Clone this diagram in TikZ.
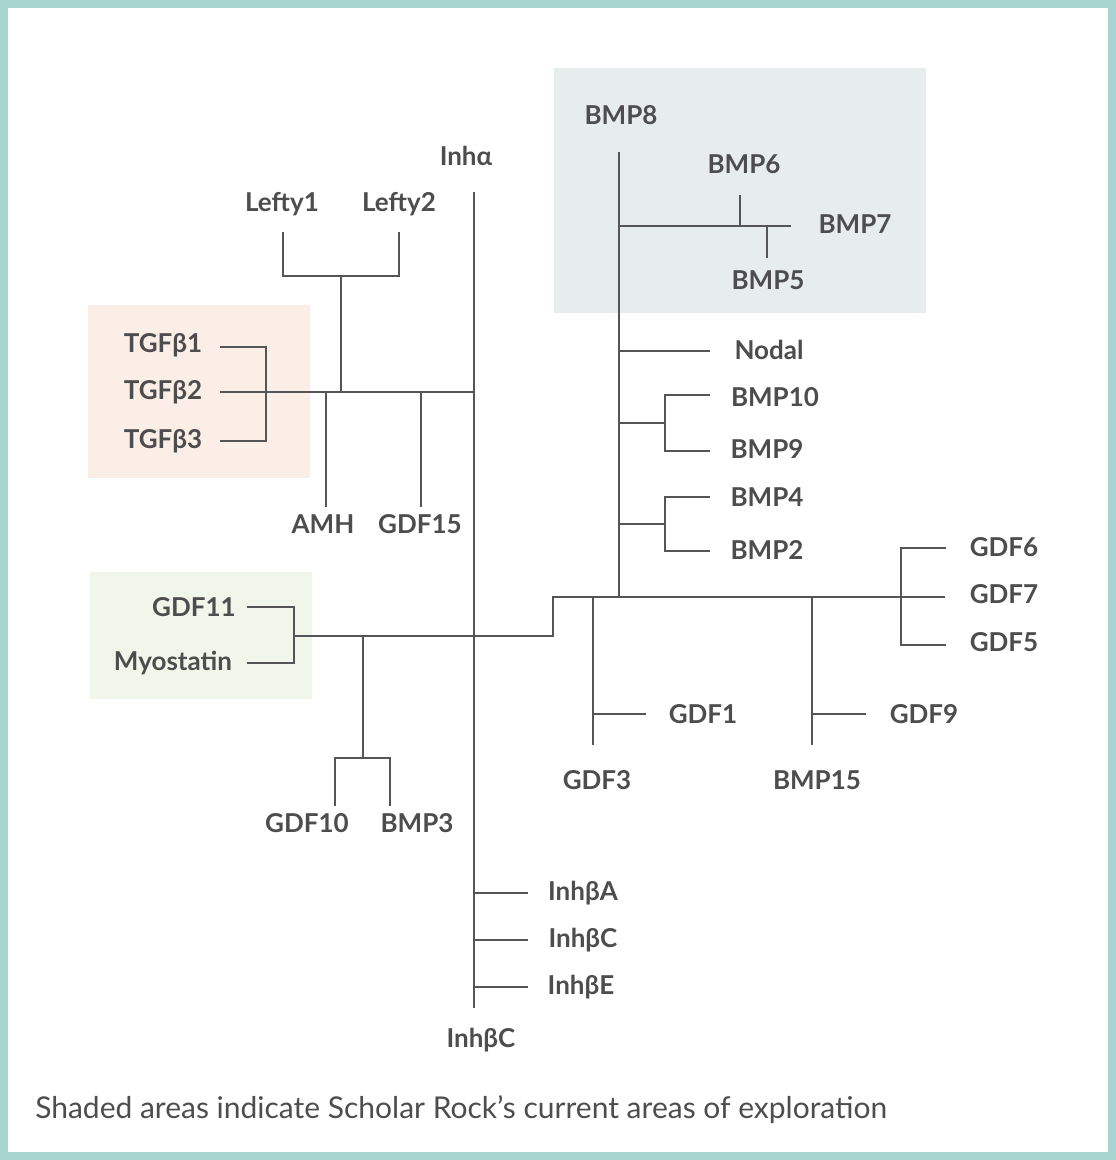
\documentclass[tikz,border=0pt]{standalone}
\usepackage{fontspec}
\setmainfont{Lato}
\begin{document}
\begin{tikzpicture}[x=0.75pt,y=-0.75pt,
  lab/.style={font=\fontsize{19.5}{22}\selectfont\bfseries,text=txt,inner sep=0pt},
  br/.style={draw=ln,line width=1pt}]
\definecolor{txt}{HTML}{4D4D4D}
\definecolor{ln}{HTML}{555555}
\definecolor{frm}{HTML}{A8D5CF}
\useasboundingbox (0,0) rectangle (1116,1160);
\fill[white] (0,0) rectangle (1116,1160);
\draw[frm,line width=6pt] (4,4) rectangle (1112,1156);
% shaded
\fill[fill={rgb,255:red,251;green,238;blue,230}] (88,305) rectangle (310,478);
\fill[fill={rgb,255:red,240;green,246;blue,234}] (90,572) rectangle (312,699);
\fill[fill={rgb,255:red,231;green,237;blue,237}] (554,68) rectangle (926,313);
% labels
\node[lab] (inha) at (466,156) {Inhα};
\node[lab] (inhbc2) at (481,1040) {InhβC};
\node[lab] (t1) at (163,345) {TGFβ1};
\node[lab] (t2) at (163,392) {TGFβ2};
\node[lab] (t3) at (163,441) {TGFβ3};
\node[lab] (l1) at (282,204) {Lefty1};
\node[lab] (l2) at (399,204) {Lefty2};
\node[lab] (amh) at (323,524) {AMH};
\node[lab] (g15) at (420,524) {GDF15};
\node[lab] (g11) at (194,607) {GDF11};
\node[lab] (myo) at (173,663) {Myostatin};
\node[lab] (g10) at (307,823) {GDF10};
\node[lab] (b3) at (417,823) {BMP3};
\node[lab] (iba) at (583,893) {InhβA};
\node[lab] (ibc) at (583,940) {InhβC};
\node[lab] (ibe) at (581,987) {InhβE};
\node[lab] (b8) at (621,115) {BMP8};
\node[lab] (b6) at (744,164) {BMP6};
\node[lab] (b7) at (855,224) {BMP7};
\node[lab] (b5) at (768,280) {BMP5};
\node[lab] (nod) at (769,350) {Nodal};
\node[lab] (b10) at (775,397) {BMP10};
\node[lab] (b9) at (767,449) {BMP9};
\node[lab] (b4) at (767,497) {BMP4};
\node[lab] (b2) at (767,550) {BMP2};
\node[lab] (g1) at (703,714) {GDF1};
\node[lab] (g3) at (597,780) {GDF3};
\node[lab] (g9) at (924,714) {GDF9};
\node[lab] (b15) at (817,780) {BMP15};
\node[lab] (g6) at (1004,547) {GDF6};
\node[lab] (g7) at (1004,594) {GDF7};
\node[lab] (g5) at (1004,642) {GDF5};
\node[anchor=west,inner sep=0pt,text=txt,font=\fontsize{22.5}{26}\selectfont] (cap) at (35,1110) {Shaded areas indicate Scholar Rock’s current areas of exploration};
% tree
\draw[br] (474,192) -- (474,1008);
\draw[br] (220,392) -- (474,392);
\draw[br] (220,347) -- (266,347) -- (266,441) -- (220,441);
\draw[br] (341,392) -- (341,276);
\draw[br] (283,232) -- (283,276) -- (399,276) -- (399,232);
\draw[br] (326,392) -- (326,507);
\draw[br] (421,392) -- (421,507);
\draw[br] (294,636) -- (553,636) -- (553,597) -- (945,597);
\draw[br] (247,607) -- (294,607) -- (294,663) -- (247,663);
\draw[br] (363,636) -- (363,758);
\draw[br] (335,806) -- (335,758) -- (390,758) -- (390,806);
\foreach \y in {893,940,987} \draw[br] (474,\y) -- (528,\y);
\draw[br] (619,152) -- (619,597);
\draw[br] (619,226) -- (791,226);
\draw[br] (740,195) -- (740,226);
\draw[br] (767,226) -- (767,258);
\draw[br] (619,351) -- (710,351);
\draw[br] (619,423) -- (665,423);
\draw[br] (710,395) -- (665,395) -- (665,451) -- (710,451);
\draw[br] (619,524) -- (665,524);
\draw[br] (710,497) -- (665,497) -- (665,551) -- (710,551);
\draw[br] (593,597) -- (593,745);
\draw[br] (593,714) -- (646,714);
\draw[br] (812,597) -- (812,745);
\draw[br] (812,714) -- (866,714);
\draw[br] (946,548) -- (901,548) -- (901,645) -- (946,645);
\end{tikzpicture}
\end{document}
